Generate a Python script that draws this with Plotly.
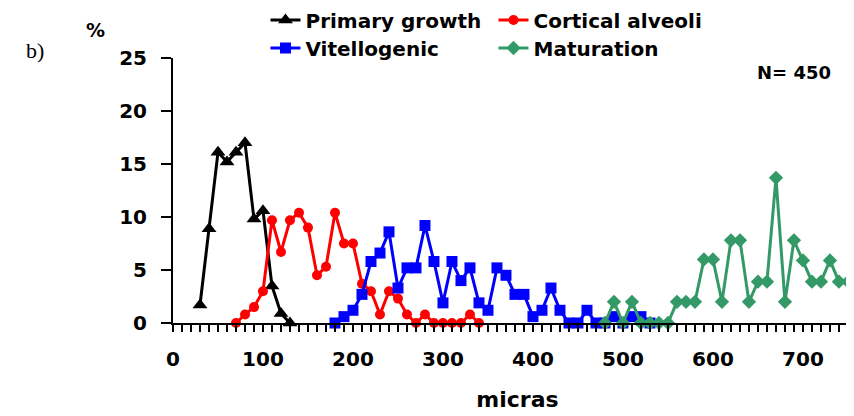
import plotly.graph_objects as go

# Data (micras classes, percentages)
pg_x = [30, 40, 50, 60, 70, 80, 90, 100, 110, 120, 130]
pg_y = [1.7, 8.9, 16.1, 15.2, 16.1, 17.0, 9.8, 10.6, 3.5, 0.9, 0.0]

ca_x = [70, 80, 90, 100, 110, 120, 130, 140, 150, 160, 170, 180, 190, 200,
        210, 220, 230, 240, 250, 260, 270, 280, 290, 300, 310, 320, 330, 340]
ca_y = [0.0, 0.8, 1.5, 3.0, 9.7, 6.7, 9.7, 10.4, 9.0, 4.5, 5.3, 10.4, 7.5, 7.5,
        3.7, 3.0, 0.8, 3.0, 2.3, 0.8, 0.0, 0.8, 0.0, 0.0, 0.0, 0.0, 0.8, 0.0]

vi_x = [180, 190, 200, 210, 220, 230, 240, 250, 260, 270, 280, 290, 300, 310,
        320, 330, 340, 350, 360, 370, 380, 390, 400, 410, 420, 430, 440, 450,
        460, 470, 480, 490, 500, 510, 520, 530]
vi_y = [0.0, 0.6, 1.2, 2.7, 5.8, 6.6, 8.6, 3.3, 5.2, 5.2, 9.2, 5.8, 1.9, 5.8,
        4.0, 5.2, 1.9, 1.2, 5.2, 4.5, 2.7, 2.7, 0.6, 1.2, 3.3, 1.2, 0.0, 0.0,
        1.2, 0.0, 0.0, 0.6, 0.0, 0.6, 0.6, 0.0]

ma_x = [480, 490, 500, 510, 520, 530, 540, 550, 560, 570, 580, 590, 600, 610,
        620, 630, 640, 650, 660, 670, 680, 690, 700, 710, 720, 730, 740, 750]
ma_y = [0.0, 2.0, 0.0, 2.0, 0.0, 0.0, 0.0, 0.0, 2.0, 2.0, 2.0, 6.0, 6.0, 2.0,
        7.8, 7.8, 2.0, 3.9, 3.9, 13.7, 2.0, 7.8, 5.9, 3.9, 3.9, 5.9, 3.9, 3.9]

x_ticks = [0, 100, 200, 300, 400, 500, 600, 700]
y_ticks = [0, 5, 10, 15, 20, 25]

FONT = "DejaVu Sans"

fig = go.Figure()
fig.add_trace(go.Scatter(x=pg_x, y=pg_y, mode="lines+markers", name="Primary growth",
                         line=dict(color="black", width=3),
                         marker=dict(symbol="triangle-up", size=13, color="black"),
                         cliponaxis=False, legend="legend"))
fig.add_trace(go.Scatter(x=ca_x, y=ca_y, mode="lines+markers", name="Cortical alveoli",
                         line=dict(color="#FF0000", width=3),
                         marker=dict(symbol="circle", size=10, color="#FF0000"),
                         cliponaxis=False, legend="legend"))
fig.add_trace(go.Scatter(x=vi_x, y=vi_y, mode="lines+markers", name="Vitellogenic",
                         line=dict(color="#0000FF", width=3),
                         marker=dict(symbol="square", size=11, color="#0000FF"),
                         cliponaxis=False, legend="legend2"))
fig.add_trace(go.Scatter(x=ma_x, y=ma_y, mode="lines+markers", name="Maturation",
                         line=dict(color="#339966", width=3),
                         marker=dict(symbol="diamond", size=11, color="#339966"),
                         cliponaxis=False, legend="legend2"))

legend_style = dict(orientation="h", xref="container", yref="container",
                    x=0.3015, xanchor="left", yanchor="middle",
                    font=dict(family=FONT, size=20, color="black", weight="bold"),
                    entrywidth=183, bgcolor="rgba(0,0,0,0)", itemwidth=30,
                    tracegroupgap=0)

fig.update_layout(
    width=854, height=416,
    margin=dict(l=165, r=0, t=50, b=101, autoexpand=False),
    paper_bgcolor="white", plot_bgcolor="white",
    font=dict(family=FONT, color="black"),
    showlegend=True,
    legend=dict(legend_style, y=0.9712),
    legend2=dict(legend_style, y=0.9038),
    xaxis=dict(range=[0, 765.6], tickvals=x_ticks, ticktext=[str(v) for v in x_ticks],
               automargin=False,
               showgrid=False, zeroline=False, showline=True, linecolor="black", linewidth=2,
               ticks="outside", ticklen=7, tickwidth=2, tickcolor="black",
               minor=dict(dtick=10, tick0=0, ticks="outside", ticklen=7, tickwidth=2, tickcolor="black"),
               tickfont=dict(family=FONT, size=20, color="black", weight="bold"),
               ticklabelstandoff=10,
               title=dict(text="micras", font=dict(family=FONT, size=22, color="black", weight="bold"),
                          standoff=22)),
    yaxis=dict(range=[0, 25], tickvals=y_ticks, ticktext=[str(v) for v in y_ticks],
               automargin=False,
               showgrid=False, zeroline=False, showline=True, linecolor="black", linewidth=2,
               ticks="outside", ticklen=10, tickwidth=2, tickcolor="black",
               tickfont=dict(family=FONT, size=20, color="black", weight="bold"),
               ticklabelstandoff=10),
    annotations=[
        dict(text="%", xref="paper", yref="paper", x=-0.1118, y=1.106, showarrow=False,
             xanchor="center", yanchor="middle",
             font=dict(family=FONT, size=19, color="black", weight="bold")),
        dict(text="b)", xref="paper", yref="paper", x=-0.2003, y=1.03, showarrow=False,
             xanchor="center", yanchor="middle",
             font=dict(family="Liberation Serif", size=22, color="black")),
        dict(text="N= 450", xref="paper", yref="paper", x=0.9013, y=0.947, showarrow=False,
             xanchor="center", yanchor="middle",
             font=dict(family=FONT, size=18, color="black", weight="bold")),
    ],
)

fig.write_html("out.html")
